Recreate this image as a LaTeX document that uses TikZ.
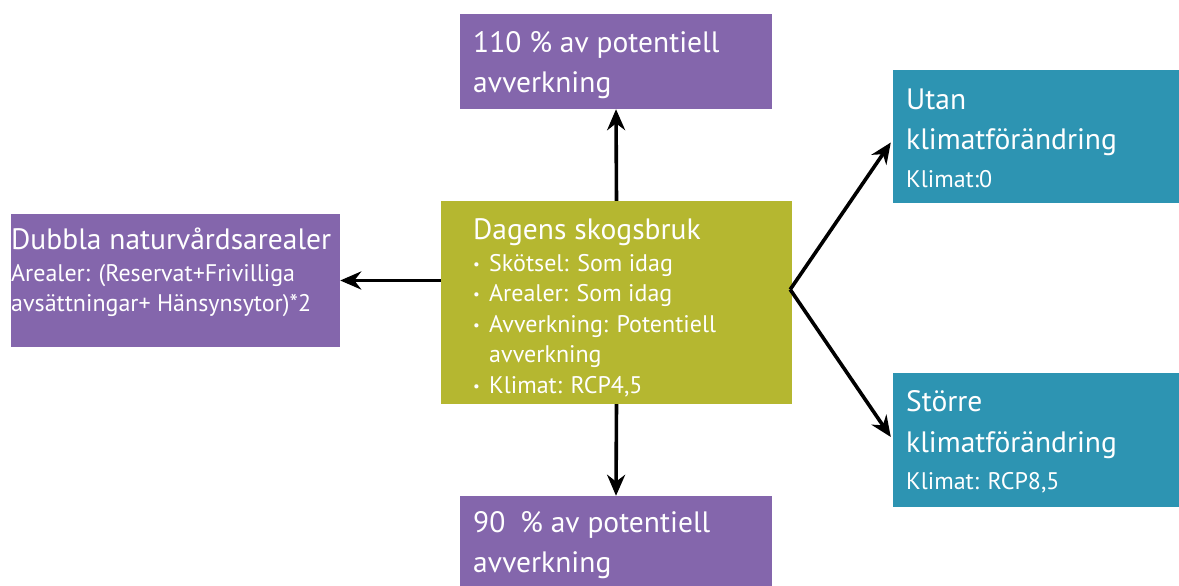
\documentclass[tikz,border=0pt]{standalone}
\usepackage{fontspec}
\setmainfont{PT Sans}
\usetikzlibrary{arrows.meta, positioning, calc}

\definecolor{lila}{RGB}{132,102,172}
\definecolor{oliv}{RGB}{181,183,48}
\definecolor{havsbla}{RGB}{45,148,178}

\newcommand{\punkt}{\makebox[16pt][l]{\fontsize{15}{15}\selectfont\raisebox{2pt}{•}}}

\begin{document}
\begin{tikzpicture}[
  x=1pt, y=1pt,
  >={Stealth[length=21pt, width=18pt]},
  box/.style={rectangle, draw=none, inner sep=0pt},
  pil/.style={->, line width=3.6pt},
  big/.style={anchor=base west, inner sep=0pt, text=white, font=\fontsize{29.5}{33}\selectfont},
  sma/.style={anchor=base west, inner sep=0pt, text=white, font=\fontsize{24}{28}\selectfont}
  ]
  \useasboundingbox (0,0) rectangle (1179,586);

  % boxes
  \node[box, fill=oliv, minimum width=351pt, minimum height=203pt] (dag) at (616.5,283.5) {};
  \node[box, fill=lila, minimum width=312pt, minimum height=95pt] (upp) at (616,524.5) {};
  \node[box, fill=lila, minimum width=312pt, minimum height=90pt] (ned) at (616,45) {};
  \node[box, fill=lila, minimum width=329pt, minimum height=133pt] (dubbel) at (175.5,305.5) {};
  \node[box, fill=havsbla, minimum width=286pt, minimum height=133pt] (utan) at (1036,449.5) {};
  \node[box, fill=havsbla, minimum width=286pt, minimum height=134pt] (storre) at (1036,146) {};

  % texts
  \node[big] (upp1) at (473,533) {110 \% av potentiell};
  \node[big] (upp2) at (473,493) {avverkning};
  \node[big] (ned1) at (473,53) {90\enspace\% av potentiell};
  \node[big] (ned2) at (473,13) {avverkning};

  \node[big] (dag0) at (473,346) {Dagens skogsbruk};
  \node[sma] (dag1) at (473,314) {\punkt Skötsel: Som idag};
  \node[sma] (dag2) at (473,284) {\punkt Arealer: Som idag};
  \node[sma] (dag3) at (473,253) {\punkt Avverkning: Potentiell};
  \node[sma] (dag4) at (489,223) {avverkning};
  \node[sma] (dag5) at (473,192) {\punkt Klimat: RCP4,5};

  \node[big] (dub1) at (11,336) {Dubbla naturvårdsarealer};
  \node[sma] (dub2) at (11,304) {Arealer: (Reservat+Frivilliga};
  \node[sma] (dub3) at (11,274) {avsättningar+ Hänsynsytor)*2};

  \node[big] (utan1) at (906,476) {Utan};
  \node[big] (utan2) at (906,436) {klimatförändring};
  \node[sma] (utan3) at (906,398) {Klimat:0};

  \node[big] (sto1) at (906,174) {Större};
  \node[big] (sto2) at (906,133) {klimatförändring};
  \node[sma] (sto3) at (906,96) {Klimat: RCP8,5};

  % connectors
  \coordinate (fork) at ($(dag.east)+(-2,13)$);
  \draw[pil] (dag.north) -- (upp.south);
  \draw[pil] (dag.south) -- (ned.north);
  \draw[pil] (dag.west |- dubbel.east) -- (dubbel.east);
  \draw[pil] (fork) -- ($(utan.west)+(-2,-6)$);
  \draw[pil] (fork) -- ($(storre.west)+(-2,3)$);
\end{tikzpicture}
\end{document}
